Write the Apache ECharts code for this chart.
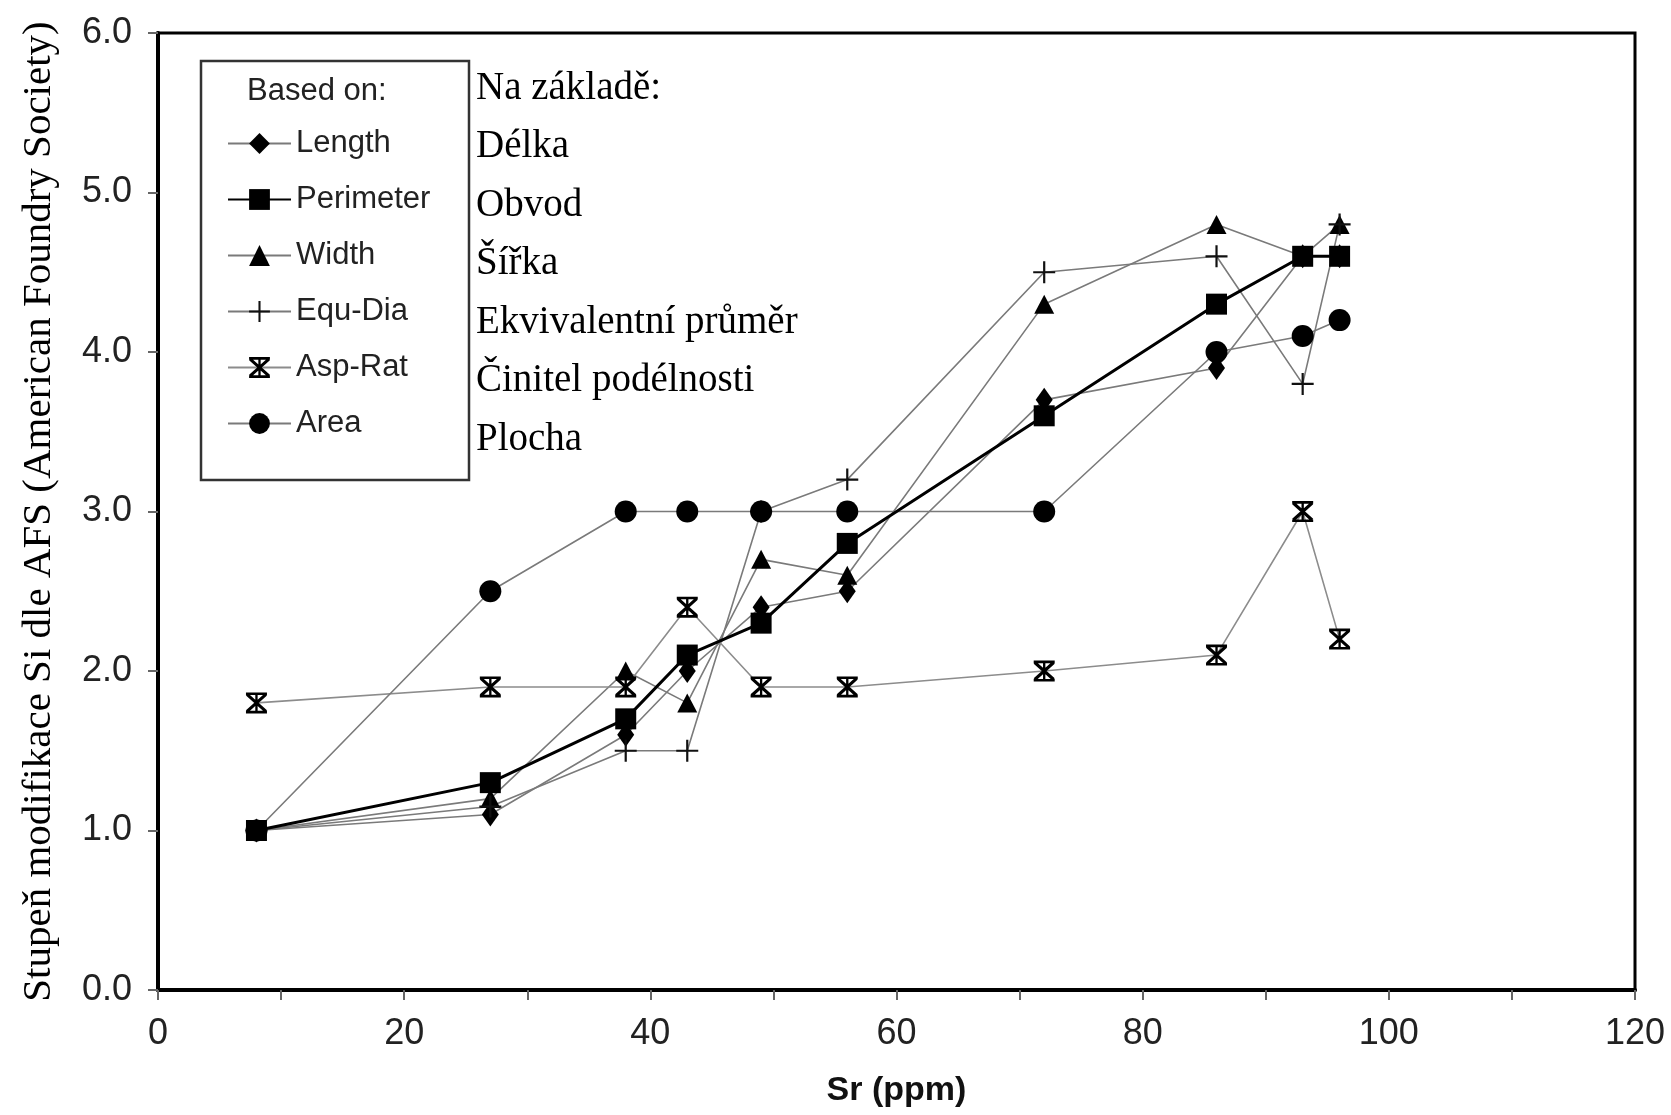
<!DOCTYPE html>
<html>
<head>
<meta charset="utf-8">
<title>Sr modifikace</title>
<script src="https://cdn.jsdelivr.net/npm/echarts@6/dist/echarts.min.js"></script>
<style>
  html, body { margin: 0; padding: 0; background: #fff; }
  #chart { width: 1671px; height: 1115px; }
</style>
</head>
<body>
<div id="chart"></div>
<script>
// values
const srValues = [8, 27, 38, 43, 49, 56, 72, 86, 93, 96];
const lengthValues = [1.0, 1.1, 1.6, 2.0, 2.4, 2.5, 3.7, 3.9, 4.6, 4.6];
const perimeterValues = [1.0, 1.3, 1.7, 2.1, 2.3, 2.8, 3.6, 4.3, 4.6, 4.6];
const widthValues = [1.0, 1.2, 2.0, 1.8, 2.7, 2.6, 4.3, 4.8, 4.6, 4.8];
const equDiaValues = [1.0, 1.15, 1.5, 1.5, 3.0, 3.2, 4.5, 4.6, 3.8, 4.8];
const aspRatValues = [1.8, 1.9, 1.9, 2.4, 1.9, 1.9, 2.0, 2.1, 3.0, 2.2];
const areaValues = [1.0, 2.5, 3.0, 3.0, 3.0, 3.0, 3.0, 4.0, 4.1, 4.2];

const seriesNames = ["Length", "Perimeter", "Width", "Equ-Dia", "Asp-Rat", "Area"];
const czechLabels = [
  "Na základě:",
  "Délka",
  "Obvod",
  "Šířka",
  "Ekvivalentní průměr",
  "Činitel podélnosti",
  "Plocha",
];

const plusPath = "path://M9,0h2v9h9v2h-9v9h-2v-9h-9v-2h9z";
const starPath =
  "path://M1,3L3,1L19,17L17,19Z M17,1L19,3L3,19L1,17Z M1,0h18v2.5h-18z M1,17.5h18v2.5h-18z M9,0h2v20h-2z";

function pairs(vals) {
  return srValues.map((x, i) => [x, vals[i]]);
}

const greyLine = { color: "#7a7a7a", width: 1.6 };

var chart = echarts.init(document.getElementById("chart"));

var option = {
  animation: false,
  backgroundColor: "#fff",
  grid: {
    left: 158,
    top: 33,
    right: 36,
    bottom: 125,
    show: true,
    borderColor: "#000",
    borderWidth: 3,
  },
  xAxis: {
    type: "value",
    min: 0,
    max: 120,
    interval: 20,
    name: "Sr (ppm)",
    nameLocation: "middle",
    nameGap: 84,
    nameTextStyle: {
      fontFamily: "Liberation Sans",
      fontWeight: "bold",
      fontSize: 34,
      color: "#111",
    },
    axisLine: { lineStyle: { color: "#000", width: 4 } },
    axisTick: { show: true, length: 10, lineStyle: { color: "#666", width: 2 } },
    minorTick: { show: true, splitNumber: 2, length: 10, lineStyle: { color: "#666", width: 2 } },
    splitLine: { show: false },
    axisLabel: {
      margin: 26,
      fontFamily: "Liberation Sans",
      fontSize: 36,
      color: "#222",
    },
  },
  yAxis: {
    type: "value",
    min: 0,
    max: 6,
    interval: 1,
    name: "Stupeň modifikace Si dle AFS (American Foundry Society)",
    nameLocation: "middle",
    nameGap: 98,
    nameTextStyle: {
      fontFamily: "Liberation Serif",
      fontSize: 41,
      color: "#000",
    },
    axisLine: { show: true, lineStyle: { color: "#000", width: 4 } },
    axisTick: { show: true, length: 10, lineStyle: { color: "#666", width: 2 } },
    splitLine: { show: false },
    axisLabel: {
      margin: 26,
      fontFamily: "Liberation Sans",
      fontSize: 36,
      color: "#222",
      formatter: (v) => v.toFixed(1),
    },
  },
  legend: {
    data: seriesNames,
    orient: "vertical",
    left: 222,
    top: 123,
    itemWidth: 63,
    itemHeight: 26,
    itemGap: 25,
    textStyle: {
      fontFamily: "Liberation Sans",
      fontSize: 31,
      color: "#222",
    },
  },
  graphic: [
    {
      type: "rect",
      shape: { x: 201, y: 61, width: 268, height: 419 },
      style: { fill: "none", stroke: "#333", lineWidth: 2.5 },
      z: 10,
    },
    {
      type: "text",
      x: 247,
      y: 91,
      style: {
        text: "Based on:",
        fontFamily: "Liberation Sans",
        fontSize: 31,
        fill: "#222",
        textVerticalAlign: "middle",
      },
      z: 10,
    },
  ].concat(
    czechLabels.map((t, i) => ({
      type: "text",
      x: 476,
      y: [89, 147, 206, 264, 323, 381, 440][i],
      style: {
        text: t,
        fontFamily: "Liberation Serif",
        fontSize: 39,
        fill: "#000",
        textVerticalAlign: "middle",
      },
      z: 10,
    }))
  ),
  series: [
    {
      name: "Length",
      type: "line",
      data: pairs(lengthValues),
      symbol: "diamond",
      symbolSize: [17, 24],
      itemStyle: { color: "#000" },
      lineStyle: greyLine,
    },
    {
      name: "Perimeter",
      type: "line",
      data: pairs(perimeterValues),
      symbol: "rect",
      symbolSize: 21,
      itemStyle: { color: "#000" },
      lineStyle: { color: "#000", width: 3 },
      z: 5,
    },
    {
      name: "Width",
      type: "line",
      data: pairs(widthValues),
      symbol: "triangle",
      symbolSize: [20, 19],
      itemStyle: { color: "#000" },
      lineStyle: greyLine,
    },
    {
      name: "Equ-Dia",
      type: "line",
      data: pairs(equDiaValues),
      symbol: plusPath,
      symbolSize: 22,
      itemStyle: { color: "#111" },
      lineStyle: greyLine,
    },
    {
      name: "Asp-Rat",
      type: "line",
      data: pairs(aspRatValues),
      symbol: starPath,
      symbolSize: 21,
      itemStyle: { color: "#000" },
      lineStyle: { color: "#8c8c8c", width: 1.6 },
    },
    {
      name: "Area",
      type: "line",
      data: pairs(areaValues),
      symbol: "circle",
      symbolSize: 22,
      itemStyle: { color: "#000" },
      lineStyle: greyLine,
    },
  ],
};

chart.setOption(option);
</script>
</body>
</html>
